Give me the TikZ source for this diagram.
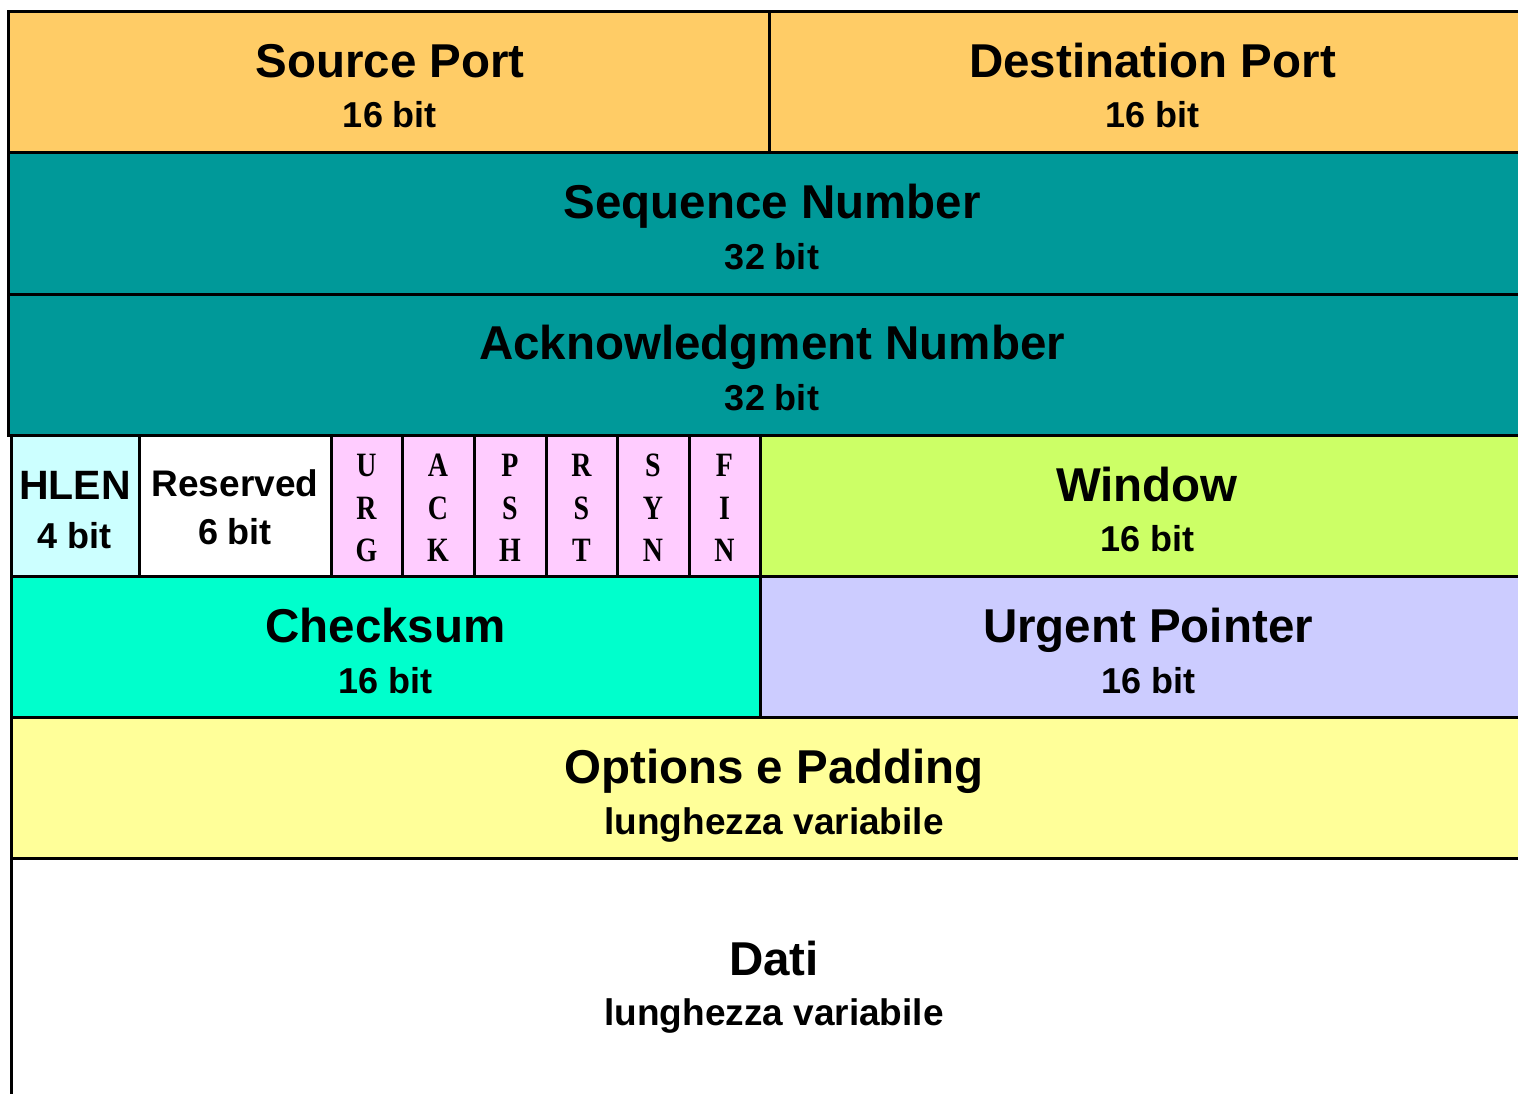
\documentclass[tikz,border=0pt]{standalone}
\usepackage{fontspec}
\setmainfont{Liberation Sans}
\newfontfamily\flagfont{Liberation Serif}
\definecolor{portcol}{HTML}{FFCC66}
\definecolor{seqcol}{HTML}{009999}
\definecolor{hlencol}{HTML}{CCFFFF}
\definecolor{flagcol}{HTML}{FFCCFF}
\definecolor{wincol}{HTML}{CCFF66}
\definecolor{sumcol}{HTML}{00FFCC}
\definecolor{urgcol}{HTML}{CCCCFF}
\definecolor{optcol}{HTML}{FFFF99}
\begin{document}
\begin{tikzpicture}[x=1pt,y=-1pt,
  cell/.style={draw=black,line width=3pt},
  title/.style={anchor=base,inner sep=0pt,font=\fontsize{47.5}{57}\selectfont\bfseries},
  sub/.style={anchor=base,inner sep=0pt,font=\fontsize{36}{43}\selectfont\bfseries},
  note/.style={anchor=base,inner sep=0pt,font=\fontsize{37}{44}\selectfont\bfseries},
  flag/.style={anchor=base,inner sep=0pt,xscale=0.9,yscale=1.1,font=\fontsize{31}{42}\flagfont\bfseries}]
\useasboundingbox (0,0) rectangle (1518,1093);
\clip (0,0) rectangle (1518,1093);

% header fields
\path[cell,fill=portcol] (8,11) rectangle (769,152);
\path[cell,fill=portcol] (769,11) rectangle (1536,152);
\path[cell,fill=seqcol] (8,152) rectangle (1536,294);
\path[cell,fill=seqcol] (8,294) rectangle (1536,435);
% HLEN, reserved, flags, window
\path[cell,fill=hlencol] (11,435) rectangle (139,576);
\path[cell,fill=white] (139,435) rectangle (331,576);
\foreach \a/\b in {331/402,402/474,474/546,546/617,617/689,689/760}
  \path[cell,fill=flagcol] (\a,435) rectangle (\b,576);
\path[cell,fill=wincol] (760,435) rectangle (1536,576);
% checksum, urgent pointer
\path[cell,fill=sumcol] (11,576) rectangle (760,717);
\path[cell,fill=urgcol] (760,576) rectangle (1536,717);
% options and data
\path[cell,fill=optcol] (11,717) rectangle (1536,858);
\path[cell,fill=white] (11,858) rectangle (1536,1120);

% labels
\node[title] (sp) at (390,77) {Source Port};
\node[sub] (spb) at (390,127) {16 bit};
\node[title] (dp) at (1152.5,77) {Destination Port};
\node[sub] (dpb) at (1152.5,127) {16 bit};
\node[title] (sn) at (772,218) {Sequence Number};
\node[sub] (snb) at (772,269) {32 bit};
\node[title] (an) at (772,359) {Acknowledgment Number};
\node[sub] (anb) at (772,410) {32 bit};
\node[anchor=base,inner sep=0pt,font=\fontsize{41}{49}\selectfont\bfseries] (hl) at (75,499) {HLEN};
\node[sub] (hlb) at (75,548) {4 bit};
\node[note] (rs) at (235,496) {Reserved};
\node[sub] (rsb) at (235,544) {6 bit};
\foreach \x/\p/\q/\r [count=\i] in {366.5/U/R/G,438/A/C/K,510/P/S/H,581.5/R/S/T,653/S/Y/N,724.5/F/I/N}{
  \node[flag] (f\i a) at (\x,476) {\p};
  \node[flag] (f\i b) at (\x,519) {\q};
  \node[flag] (f\i c) at (\x,561) {\r};
}
\node[title] (wn) at (1147,501) {Window};
\node[sub] (wnb) at (1147,551) {16 bit};
\node[title] (cs) at (385.5,642) {Checksum};
\node[sub] (csb) at (385.5,693) {16 bit};
\node[title] (up) at (1148,642) {Urgent Pointer};
\node[sub] (upb) at (1148,693) {16 bit};
\node[title] (op) at (774,783) {Options e Padding};
\node[note] (opb) at (774,834) {lunghezza variabile};
\node[title] (dt) at (774,975) {Dati};
\node[note] (dtb) at (774,1025) {lunghezza variabile};
\end{tikzpicture}
\end{document}
